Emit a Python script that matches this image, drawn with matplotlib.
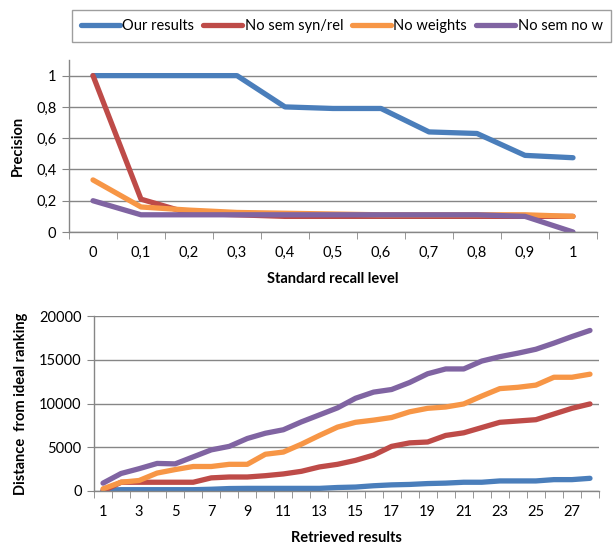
import matplotlib
matplotlib.use("Agg")
import matplotlib.pyplot as plt
import numpy as np

plt.rcParams['font.family'] = ['Lato', 'DejaVu Sans']

# data
series_names = ["Our results", "No sem syn/rel", "No weights", "No sem no w"]
colors = ["#4A7EBB", "#BE4B48", "#F79646", "#8064A2"]

recall_labels = ["0", "0,1", "0,2", "0,3", "0,4", "0,5", "0,6", "0,7", "0,8", "0,9", "1"]
prec_ours = [1, 1, 1, 1, 0.80, 0.79, 0.79, 0.64, 0.63, 0.49, 0.475]
prec_nosem = [1, 0.21, 0.12, 0.11, 0.10, 0.10, 0.10, 0.10, 0.10, 0.10, 0.10]
prec_noweights = [0.333, 0.16, 0.14, 0.125, 0.12, 0.115, 0.11, 0.11, 0.11, 0.11, 0.10]
prec_nosemnow = [0.20, 0.11, 0.11, 0.11, 0.11, 0.11, 0.11, 0.11, 0.11, 0.10, 0.0]

retrieved = list(range(1, 29))
dist_ours = [100, 150, 150, 150, 150, 150, 200, 280, 300, 300, 300, 300, 300, 400,
             450, 600, 700, 750, 850, 900, 1000, 1000, 1150, 1150, 1150, 1300, 1300, 1450]
dist_nosem = [0, 1000, 1000, 1000, 1000, 1000, 1500, 1600, 1600, 1750, 1950, 2250, 2750, 3050,
              3500, 4100, 5100, 5500, 5600, 6350, 6650, 7250, 7850, 8000, 8150, 8800, 9450, 9950]
dist_noweights = [250, 1000, 1200, 2050, 2450, 2800, 2800, 3050, 3050, 4200, 4450, 5350, 6350, 7300,
                  7850, 8100, 8400, 9050, 9450, 9600, 9950, 10850, 11700, 11850, 12100, 13000, 13000, 13350]
dist_nosemnow = [900, 2000, 2550, 3150, 3100, 3900, 4700, 5100, 6000, 6600, 7000, 7900, 8700, 9500,
                 10600, 11300, 11600, 12400, 13400, 13950, 13950, 14850, 15350, 15750, 16200, 16900, 17650, 18350]

grid_col = "#868686"
lw = 3.8
fs = 10.5

fig = plt.figure(figsize=(6.13, 5.47), dpi=100)
ax1 = fig.add_axes([69/613, 1-232/547, 528/613, 172/547])
ax2 = fig.add_axes([94/613, 1-491/547, 505/613, 175/547])


def style_axis(ax, n):
    for s in ["top", "right"]:
        ax.spines[s].set_visible(False)
    for s in ["left", "bottom"]:
        ax.spines[s].set_color(grid_col)
        ax.spines[s].set_linewidth(1)
    ax.set_xlim(-0.5, n - 0.5)
    ax.set_xticks(np.arange(-0.5, n, 1.0), minor=True)
    ax.tick_params(axis="x", which="major", length=0, pad=10, labelsize=fs)
    ax.tick_params(axis="x", which="minor", length=5, color=grid_col, direction="out")
    ax.tick_params(axis="y", length=5, color=grid_col, labelsize=fs, pad=4)
    ax.yaxis.grid(True, color=grid_col, linewidth=1)
    ax.set_axisbelow(True)


# precision / recall
x1 = np.arange(len(recall_labels))
for vals, c, name in zip([prec_ours, prec_nosem, prec_noweights, prec_nosemnow], colors, series_names):
    ax1.plot(x1, vals, color=c, linewidth=lw, solid_capstyle="round", label=name)
style_axis(ax1, len(recall_labels))
ax1.set_ylim(0, 1.1)
ax1.set_yticks([0, 0.2, 0.4, 0.6, 0.8, 1])
ax1.set_yticklabels(["0", "0,2", "0,4", "0,6", "0,8", "1"])
ax1.set_xticks(x1)
ax1.set_xticklabels(recall_labels)
ax1.set_xlabel("Standard recall level", fontweight="bold", fontsize=fs, labelpad=9)
ax1.set_ylabel("Precision", fontweight="bold", fontsize=fs, labelpad=8)

# distance from ideal ranking
x2 = np.arange(len(retrieved))
for vals, c in zip([dist_ours, dist_nosem, dist_noweights, dist_nosemnow], colors):
    ax2.plot(x2, vals, color=c, linewidth=lw, solid_capstyle="round")
style_axis(ax2, len(retrieved))
ax2.set_ylim(0, 20000)
ax2.set_yticks([0, 5000, 10000, 15000, 20000])
ax2.set_xticks(x2[::2])
ax2.set_xticklabels([str(r) for r in retrieved[::2]])
ax2.set_xlabel("Retrieved results", fontweight="bold", fontsize=fs, labelpad=9)
ax2.set_ylabel("Distance  from ideal ranking", fontweight="bold", fontsize=fs, labelpad=8)

leg = fig.legend(loc="upper left", bbox_to_anchor=(72/613, 1-10/547), ncol=4,
                 fontsize=fs, frameon=True, fancybox=False, edgecolor=grid_col,
                 handlelength=2.7, handletextpad=0.15, columnspacing=0.6,
                 borderpad=0.6, borderaxespad=0)
leg.get_frame().set_linewidth(1)

fig.savefig("out.png", dpi=100)
